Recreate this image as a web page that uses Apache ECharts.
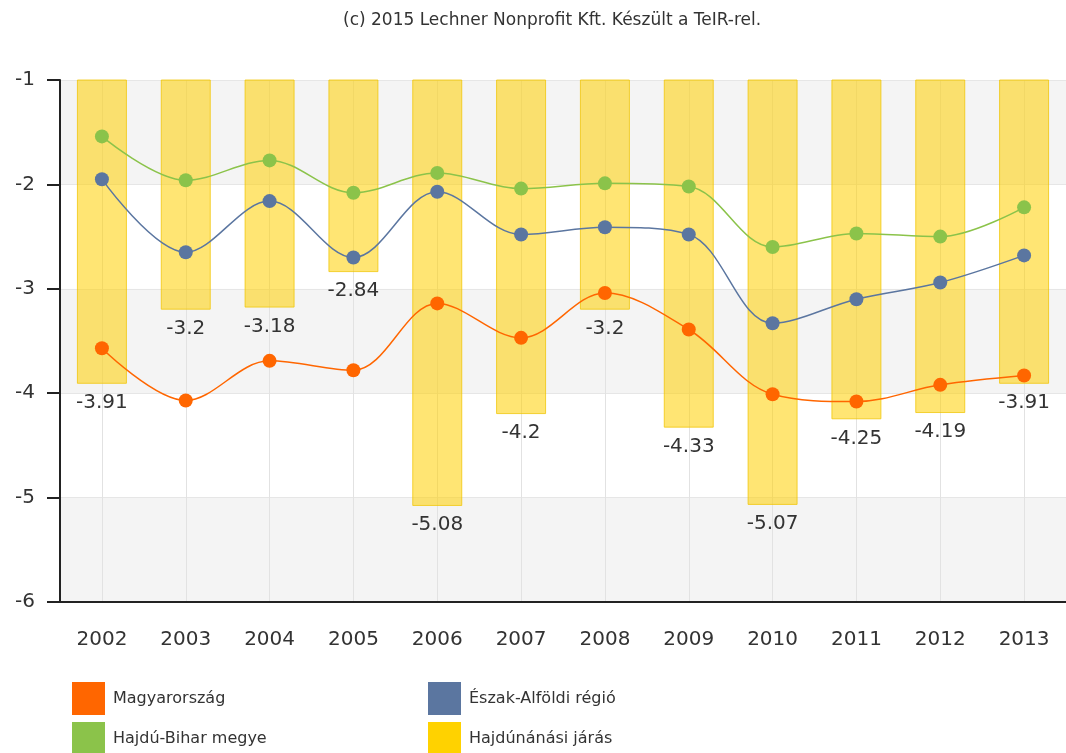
<!DOCTYPE html>
<html>
<head>
<meta charset="utf-8">
<script src="https://cdn.jsdelivr.net/npm/echarts@6/dist/echarts.min.js"></script>
<style>html,body{margin:0;padding:0;background:#fff;}#c{width:1066px;height:753px;}</style>
</head>
<body>
<div id="c"></div>
<script>
const years = ['2002','2003','2004','2005','2006','2007','2008','2009','2010','2011','2012','2013'];
const magyarorszag = [-3.57,-4.07,-3.69,-3.78,-3.14,-3.47,-3.04,-3.39,-4.01,-4.08,-3.92,-3.83];
const eszakAlfold = [-1.95,-2.65,-2.16,-2.70,-2.07,-2.48,-2.41,-2.48,-3.33,-3.10,-2.94,-2.68];
const hajduBihar = [-1.54,-1.96,-1.77,-2.08,-1.89,-2.04,-1.99,-2.02,-2.60,-2.47,-2.50,-2.22];
const hajdunanas = [-3.91,-3.2,-3.18,-2.84,-5.08,-4.2,-3.2,-4.33,-5.07,-4.25,-4.19,-3.91];
const yTicks = [-6,-5,-4,-3,-2,-1];

const FONT = 'DejaVu Sans';
const chart = echarts.init(document.getElementById('c'));
function lineSeries(name, data, color) {
  return {
    name, type: 'line', data, smooth: 0.35, z: 5,
    symbol: 'circle', symbolSize: 14,
    itemStyle: { color: color },
    lineStyle: { color: color, width: 1.5 },
    emphasis: { disabled: true }
  };
}
const legendCommon = {
  top: 682, height: 120, padding: 0, orient: 'vertical', itemWidth: 33, itemHeight: 33, itemGap: 7,
  icon: 'rect', itemStyle: { borderWidth: 0 },
  textStyle: { fontFamily: FONT, fontSize: 16, color: '#333', padding: [0, 0, 0, 3] }
};
chart.setOption({
  animation: false,
  backgroundColor: '#fff',
  textStyle: { fontFamily: FONT },
  title: {
    text: '(c) 2015 Lechner Nonprofit Kft. Készült a TeIR-rel.',
    left: 343, top: 12, padding: 0,
    textStyle: { fontFamily: FONT, fontSize: 17, fontWeight: 'normal', color: '#333' }
  },
  legend: [
    Object.assign({ left: 72, data: ['Magyarország', 'Hajdú-Bihar megye'] }, legendCommon),
    Object.assign({ left: 428, data: ['Észak-Alföldi régió',
      { name: 'Hajdúnánási járás', itemStyle: { color: '#ffd200', opacity: 1, borderWidth: 0 } }] }, legendCommon)
  ],
  grid: { left: 60, top: 80, width: 1019, height: 522, containLabel: false },
  xAxis: {
    type: 'category', data: years,
    axisLine: { lineStyle: { color: '#222', width: 2 } },
    axisTick: { alignWithLabel: true, length: 12, lineStyle: { color: '#222', width: 2 } },
    axisLabel: { margin: 28, fontSize: 20, color: '#333', fontFamily: FONT },
    splitLine: { show: true, alignWithLabel: true, lineStyle: { color: '#e2e2e2', width: 1 } }
  },
  yAxis: {
    type: 'value', min: -6, max: -1, interval: 1,
    axisLine: { show: true, lineStyle: { color: '#222', width: 2 } },
    axisTick: { show: true, length: 13, lineStyle: { color: '#222', width: 2 } },
    axisLabel: { margin: 25, fontSize: 20, color: '#333', fontFamily: FONT,
      formatter: v => yTicks.includes(v) ? String(v) : '' },
    splitLine: { show: true, lineStyle: { color: '#e6e6e6', width: 1 } },
    splitArea: { show: true, areaStyle: { color: ['#f4f4f4', '#ffffff'] } }
  },
  series: [
    {
      name: 'Hajdúnánási járás', type: 'bar', data: hajdunanas, barWidth: 50, z: 2,
      itemStyle: { color: 'rgba(255,208,0,0.55)', borderColor: 'rgba(240,196,0,0.75)', borderWidth: 1 },
      label: { show: true, position: 'bottom', distance: 9, fontSize: 20, color: '#333', fontFamily: FONT },
      emphasis: { disabled: true }
    },
    lineSeries('Magyarország', magyarorszag, '#ff6600'),
    lineSeries('Észak-Alföldi régió', eszakAlfold, '#5b76a0'),
    lineSeries('Hajdú-Bihar megye', hajduBihar, '#8bc34a')
  ]
});
</script>
</body>
</html>
